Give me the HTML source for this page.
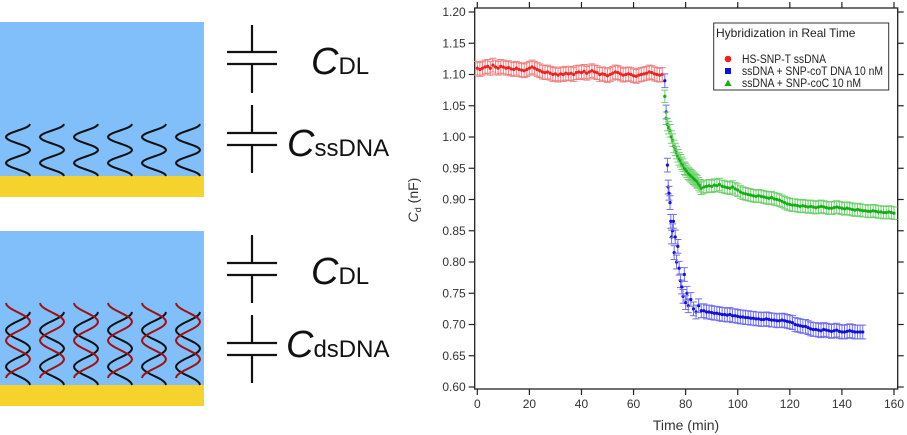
<!DOCTYPE html>
<html><head><meta charset="utf-8"><style>
body{margin:0;background:#fff;width:907px;height:435px;overflow:hidden;font-family:"Liberation Sans",sans-serif}
svg{position:absolute;left:0;top:0}
</style></head><body>
<svg id="s" width="907" height="435">
<g>
<rect x="0" y="22" width="204" height="175" fill="#80bffa"/>
<rect x="0" y="176" width="204" height="21" fill="#f5d32c"/>
<g id="ssw"></g>
</g>
<g>
<rect x="0" y="231" width="204" height="175" fill="#80bffa"/>
<rect x="0" y="385" width="204" height="21" fill="#f5d32c"/>
<g id="dsw"></g>
</g>
<g stroke="#111" stroke-width="2.2">
<path d="M252 25V52M227 52H277M227 64H277M252 64V93"/>
<path d="M252 105V133M227 133H277M227 145H277M252 145V173"/>
<path d="M252 235V263M227 263H277M227 275H277M252 275V303"/>
<path d="M252 315V343M227 343H277M227 355H277M252 355V383"/>
</g>
<g fill="#111" font-family="Liberation Sans,sans-serif">
<text x="311" y="74"><tspan font-style="italic" font-size="38">C</tspan><tspan font-size="24">DL</tspan></text>
<text x="287" y="156"><tspan font-style="italic" font-size="38">C</tspan><tspan font-size="24">ssDNA</tspan></text>
<text x="311" y="284"><tspan font-style="italic" font-size="38">C</tspan><tspan font-size="24">DL</tspan></text>
<text x="286" y="357"><tspan font-style="italic" font-size="38">C</tspan><tspan font-size="24">dsDNA</tspan></text>
</g>
<g id="chart"></g>
</svg>
<script>
const redT=[0,1,2,3,4,5,6,7,8,9,10,11,12,13,14,15,16,17,18,19,20,21,22,23,24,25,26,27,28,29,30,31,32,33,34,35,36,37,38,39,40,41,42,43,44,45,46,47,48,49,50,51,52,53,54,55,56,57,58,59,60,61,62,63,64,65,66,67,68,69,70,71];
const redV=[1.11,1.108,1.11,1.112,1.113,1.11,1.115,1.112,1.11,1.113,1.112,1.11,1.111,1.109,1.108,1.11,1.108,1.107,1.106,1.108,1.11,1.112,1.11,1.108,1.106,1.104,1.103,1.104,1.102,1.1,1.101,1.099,1.101,1.1,1.102,1.101,1.102,1.1,1.103,1.104,1.103,1.105,1.102,1.104,1.106,1.104,1.103,1.1,1.101,1.1,1.098,1.1,1.102,1.104,1.103,1.101,1.099,1.1,1.101,1.1,1.098,1.097,1.099,1.1,1.101,1.102,1.104,1.103,1.101,1.1,1.099,1.1];
const blueT=[72,72.5,73,73.3,73.6,74,74.3,74.6,75,75.3,75.6,76,76.5,77,77.5,78,78.5,79,79.5,80,80.5,81,82,83,84,85,86,87,88,89,90,91,92,93,94,95,96,97,98,99,100,101,102,103,104,105,106,107,108,109,110,111,112,113,114,115,116,117,118,119,120,121,122,123,124,125,126,127,128,129,130,131,132,133,134,135,136,137,138,139,140,141,142,143,144,145,146,147,148];
const blueV=[1.09,1.04,0.955,0.92,0.91,0.895,0.865,0.84,0.85,0.865,0.815,0.84,0.8,0.825,0.79,0.77,0.76,0.745,0.78,0.735,0.75,0.73,0.74,0.725,0.72,0.73,0.722,0.722,0.72,0.72,0.719,0.718,0.718,0.717,0.716,0.716,0.715,0.716,0.714,0.714,0.713,0.712,0.712,0.711,0.711,0.71,0.71,0.709,0.709,0.708,0.708,0.709,0.708,0.707,0.707,0.706,0.706,0.707,0.706,0.705,0.704,0.703,0.7,0.699,0.698,0.697,0.697,0.695,0.693,0.692,0.692,0.691,0.69,0.692,0.691,0.69,0.689,0.69,0.691,0.689,0.688,0.688,0.689,0.69,0.689,0.688,0.688,0.688,0.688];
const greenT=[72,72.5,73,73.5,74,74.5,75,75.5,76,76.5,77,77.5,78,78.5,79,79.5,80,80.5,81,81.5,82,82.5,83,83.5,84,84.5,85,85.5,86,87,88,89,90,91,92,93,94,95,96,97,98,99,100,101,102,103,104,105,106,107,108,109,110,111,112,113,114,115,116,117,118,119,120,121,122,123,124,125,126,127,128,129,130,131,132,133,134,135,136,137,138,139,140,141,142,143,144,145,146,147,148,149,150,151,152,153,154,155,156,157,158,159,160];
const greenV=[1.065,1.03,1.02,1.015,1.01,1.0,0.995,0.985,0.98,0.975,0.97,0.965,0.962,0.958,0.955,0.95,0.948,0.945,0.942,0.94,0.938,0.936,0.934,0.932,0.93,0.928,0.925,0.922,0.918,0.92,0.921,0.922,0.921,0.923,0.922,0.924,0.921,0.92,0.919,0.918,0.92,0.917,0.915,0.912,0.91,0.909,0.908,0.907,0.906,0.905,0.906,0.905,0.904,0.903,0.902,0.903,0.901,0.9,0.899,0.897,0.895,0.893,0.892,0.891,0.891,0.89,0.889,0.89,0.889,0.888,0.889,0.888,0.887,0.888,0.889,0.888,0.887,0.886,0.886,0.887,0.888,0.887,0.886,0.885,0.886,0.885,0.884,0.883,0.884,0.883,0.882,0.882,0.881,0.881,0.882,0.881,0.88,0.88,0.879,0.879,0.88,0.879,0.878];
const seriesErr=[0.011,0.011,0.01];
const xTicks=[0,20,40,60,80,100,120,140,160];
const yTicks=[0.60,0.65,0.70,0.75,0.80,0.85,0.90,0.95,1.00,1.05,1.10,1.15,1.20];
const legendLabels=["HS-SNP-T ssDNA","ssDNA + SNP-coT DNA 10 nM","ssDNA + SNP-coC 10 nM"];

const NS="http://www.w3.org/2000/svg";
function mk(tag,attrs,parent){const e=document.createElementNS(NS,tag);for(const k in attrs)e.setAttribute(k,attrs[k]);parent.appendChild(e);return e;}
const ssw=document.getElementById('ssw'),dsw=document.getElementById('dsw');
const cx=[18,52,86,120,154,188];
function wave(c,y0,y1,ph,amp){let d='';for(let i=0;i<=40;i++){const t=i/40;const y=y0+(y1-y0)*t;const x=c+amp*Math.cos(t*Math.PI*4+ph);d+=(i?'L':'M')+x.toFixed(1)+' '+y.toFixed(1);}return d;}
cx.forEach(c=>{
  const p=mk('path',{d:wave(c,124,176,0,12),fill:'none',stroke:'#111','stroke-width':2},ssw);
  
  
  const a=mk('path',{d:wave(c,312,385,0,12),fill:'none',stroke:'#111','stroke-width':2},dsw);
  
  
  const b=mk('path',{d:wave(c,303,378,Math.PI,12),fill:'none',stroke:'#a01010','stroke-width':2},dsw);
  
  
});
const g=document.getElementById('chart');
const L=474.7,R=897.7,T=8,B=389;
const X=v=>477.3+(v-0)*(894-477.3)/160;
const Y=v=>387-(v-0.6)*(387-12)/0.6;
const fr=mk('rect',{x:L,y:T,width:R-L,height:B-T,fill:'none',stroke:'#222','stroke-width':1.3},g);


xTicks.forEach(v=>{
  const x=X(v);
  mk('line',{x1:x,x2:x,y1:B,y2:B+6,stroke:'#222','stroke-width':1.2},g);
  mk('line',{x1:x,x2:x,y1:T,y2:T-6,stroke:'#222','stroke-width':1.2},g);
  const t=mk('text',{x:x,y:B+19,'text-anchor':'middle','font-size':12,fill:'#333'},g);
  t.textContent=v;
  
  
});
yTicks.forEach(v=>{
  const y=Y(v);
  mk('line',{x1:L,x2:L-6,y1:y,y2:y,stroke:'#222','stroke-width':1.2},g);
  mk('line',{x1:R,x2:R+6,y1:y,y2:y,stroke:'#222','stroke-width':1.2},g);
  const t=mk('text',{x:L-9,y:y+4,'text-anchor':'end','font-size':12,fill:'#333'},g);
  t.textContent=v.toFixed(2);
  
  
});
const xt=mk('text',{x:686,y:430,'text-anchor':'middle','font-size':14,fill:'#333'},g);
xt.textContent='Time (min)';


const yt=mk('text',{transform:'translate(418,200) rotate(-90)','text-anchor':'middle','font-size':14,fill:'#333'},g);
yt.innerHTML='<tspan font-style="italic">C</tspan><tspan font-size="9" dy="3">d</tspan><tspan dy="-3"> (nF)</tspan>';


const series=[[redT,redV,'#f02020','#f08080','red'],[blueT,blueV,'#1010e0','#7070f0','blue'],[greenT,greenV,'#10b010','#70d070','green']];
series.forEach((s,si)=>{
  const sg=mk('g',{},g);
  
  
  const n=Math.min(s[0].length,s[1].length);const e=seriesErr[si];
  for(let i=0;i<n;i++){
    const x=X(s[0][i]),y=Y(s[1][i]),y1=Y(s[1][i]+e),y2=Y(s[1][i]-e);
    mk('path',{d:`M${x} ${y1}V${y2}M${x-3.5} ${y1}H${x+3.5}M${x-3.5} ${y2}H${x+3.5}`,stroke:s[3],'stroke-width':1,fill:'none'},sg);
    const c=mk('circle',{cx:x,cy:y,r:1.6,fill:s[2]},sg);
    
    
  }
});
const lg=mk('g',{},g);


mk('rect',{x:713.7,y:23,width:175,height:67,fill:'#fff',stroke:'#333','stroke-width':1},lg);
const lt=mk('text',{x:716,y:37,'font-size':12,fill:'#222'},lg);
lt.textContent='Hybridization in Real Time';


legendLabels.forEach((lab,i)=>{
  const y=59+i*12;
  if(i===0) mk('circle',{cx:728,cy:y,r:3.3,fill:'#f02020'},lg);
  if(i===1) mk('rect',{x:725,y:y-3,width:6,height:6,fill:'#1010e0'},lg);
  if(i===2) mk('path',{d:`M728 ${y-3.5}L731.5 ${y+3}H724.5Z`,fill:'#10b010'},lg);
  const t=mk('text',{x:742,y:y+4,'font-size':11.5,fill:'#222','textLength':lab.length>22?141:(lab.length>16?119:84),'lengthAdjust':'spacingAndGlyphs'},lg);
  t.textContent=lab;
  
  
});
</script>
</body></html>
